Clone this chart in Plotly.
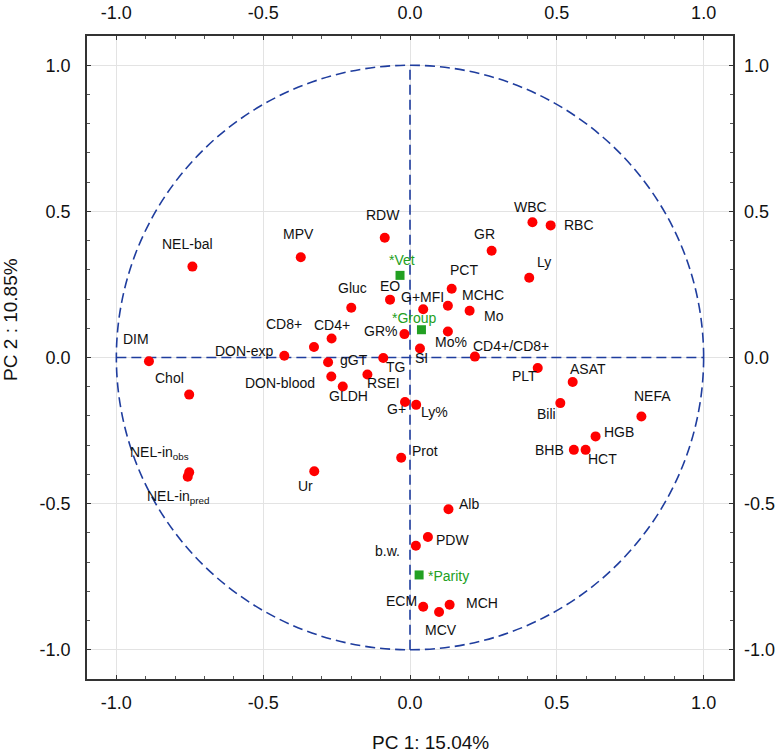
import plotly.graph_objects as go

# ---- data ----
variables = ["NEL-bal", "MPV", "RDW", "EO", "Gluc", "CD4+", "CD8+", "DON-exp", "GR%", "DIM",
             "gGT", "TG", "DON-blood", "RSEI", "GLDH", "Chol", "G+", "Ly%", "WBC", "RBC",
             "GR", "Ly", "PCT", "G+MFI", "MCHC", "Mo", "Mo%", "SI", "CD4+/CD8+", "PLT",
             "ASAT", "Bili", "NEFA", "HGB", "BHB", "HCT", "Prot", "Alb", "PDW", "b.w.",
             "ECM", "MCV", "MCH", "NEL-in<sub>obs</sub>", "NEL-in<sub>pred</sub>", "Ur"]
pc1 = [-0.741, -0.372, -0.086, -0.068, -0.200, -0.267, -0.327, -0.428, -0.019, -0.889,
       -0.279, -0.091, -0.268, -0.145, -0.229, -0.752, -0.017, 0.021, 0.417, 0.479,
       0.278, 0.406, 0.142, 0.045, 0.129, 0.203, 0.129, 0.034, 0.221, 0.435,
       0.554, 0.512, 0.788, 0.632, 0.558, 0.598, -0.030, 0.131, 0.061, 0.020,
       0.045, 0.099, 0.135, -0.752, -0.757, -0.326]
pc2 = [0.311, 0.343, 0.410, 0.198, 0.170, 0.065, 0.036, 0.006, 0.080, -0.013,
       -0.016, -0.002, -0.065, -0.058, -0.099, -0.127, -0.152, -0.162, 0.463, 0.452,
       0.365, 0.273, 0.235, 0.165, 0.177, 0.160, 0.089, 0.031, 0.003, -0.036,
       -0.084, -0.156, -0.202, -0.270, -0.316, -0.316, -0.343, -0.519, -0.614, -0.644,
       -0.853, -0.871, -0.846, -0.393, -0.408, -0.389]

supp_vars = ["*Vet", "*Group", "*Parity"]
supp_pc1 = [-0.034, 0.039, 0.031]
supp_pc2 = [0.281, 0.095, -0.744]

tick_vals = [-1.0, -0.5, 0.0, 0.5, 1.0]
tick_text = ["-1.0", "-0.5", "0.0", "0.5", "1.0"]

# label placement (pixel offsets: dx, dy down, anchor)
label_pos = {
    "NEL-bal": (-5, -23, "center"), "MPV": (-2, -23, "center"), "RDW": (-2, -23, "center"),
    "EO": (0, -14, "center"), "Gluc": (1, -20, "center"), "CD4+": (0, -14, "center"),
    "CD8+": (-30, -23, "center"), "DON-exp": (-8, -5, "right"), "GR%": (-5, -3, "right"),
    "DIM": (-13, -22, "center"), "gGT": (10, -2, "left"), "TG": (12, 9, "center"),
    "DON-blood": (-14, 6, "right"), "RSEI": (16, 9, "center"), "GLDH": (6, 10, "center"),
    "Chol": (-20, -17, "center"), "G+": (-9, 7, "center"), "Ly%": (18, 7, "center"),
    "WBC": (-2, -15, "center"), "RBC": (11, 0, "left"), "GR": (-7, -17, "center"),
    "Ly": (15, -16, "center"), "PCT": (12, -19, "center"), "G+MFI": (-1, -12, "center"),
    "MCHC": (12, -11, "left"), "Mo": (12, 5, "left"), "Mo%": (3, 11, "center"),
    "SI": (2, 10, "center"), "CD4+/CD8+": (-4, -11, "left"), "PLT": (-13, 8, "center"),
    "ASAT": (15, -13, "center"), "Bili": (-14, 11, "center"), "NEFA": (11, -21, "center"),
    "HGB": (6, -4, "left"), "BHB": (-8, 0, "right"), "HCT": (17, 9, "center"),
    "Prot": (9, -7, "left"), "Alb": (9, -5, "left"), "PDW": (6, 3, "left"),
    "b.w.": (-14, 5, "right"), "ECM": (-22, -6, "center"), "MCV": (2, 18, "center"),
    "MCH": (32, -2, "center"), "NEL-in<sub>obs</sub>": (-30, -19, "center"),
    "NEL-in<sub>pred</sub>": (-10, 20, "center"), "Ur": (-9, 15, "center"),
    "*Vet": (2, -15, "center"), "*Group": (-7, -12, "center"), "*Parity": (7, 1, "left"),
}

RED = "#ff0000"
GREEN = "#22a022"
BLUE = "#1f3d9e"
FONT = "Liberation Sans, Arial, sans-serif"

fig = go.Figure()

fig.add_trace(go.Scatter(x=pc1, y=pc2, mode="markers",
                         marker=dict(color=RED, size=10, symbol="circle"),
                         hoverinfo="skip", showlegend=False))
fig.add_trace(go.Scatter(x=supp_pc1, y=supp_pc2, mode="markers",
                         marker=dict(color=GREEN, size=9, symbol="square"),
                         hoverinfo="skip", showlegend=False))
# dummy trace for top/right axes
fig.add_trace(go.Scatter(x=[0], y=[0], xaxis="x2", yaxis="y2", mode="markers",
                         marker=dict(opacity=0), hoverinfo="skip", showlegend=False))

annotations = []
for name, x, y in zip(variables, pc1, pc2):
    dx, dy, anc = label_pos[name]
    annotations.append(dict(x=x, y=y, xref="x", yref="y", text=name, showarrow=False,
                            xanchor=anc, yanchor="middle", xshift=dx, yshift=-dy,
                            font=dict(size=14, color="#111111", family=FONT)))
for name, x, y in zip(supp_vars, supp_pc1, supp_pc2):
    dx, dy, anc = label_pos[name]
    annotations.append(dict(x=x, y=y, xref="x", yref="y", text=name, showarrow=False,
                            xanchor=anc, yanchor="middle", xshift=dx, yshift=-dy,
                            font=dict(size=14, color=GREEN, family=FONT)))

annotations.append(dict(text="PC 1: 15.04%", xref="paper", yref="paper", x=0.532, y=-0.099,
                        xanchor="center", yanchor="middle", showarrow=False,
                        font=dict(size=19, color="#111111", family=FONT)))
annotations.append(dict(text="PC 2 : 10.85%", xref="paper", yref="paper", x=0, y=0.5585,
                        xshift=-76, xanchor="center", yanchor="middle", showarrow=False,
                        textangle=-90, font=dict(size=19, color="#111111", family=FONT)))

dash = "10px,5px"
shapes = [
    dict(type="circle", xref="x", yref="y", x0=-1, y0=-1, x1=1, y1=1,
         line=dict(color=BLUE, width=1.6, dash=dash), layer="between"),
    dict(type="line", xref="x", yref="y", x0=-1, y0=0, x1=1, y1=0,
         line=dict(color=BLUE, width=1.6, dash=dash), layer="between"),
    dict(type="line", xref="x", yref="y", x0=0, y0=-1, x1=0, y1=1,
         line=dict(color=BLUE, width=1.6, dash=dash), layer="between"),
]

axis_common = dict(range=[-1.1, 1.1], tickvals=tick_vals, ticktext=tick_text,
                   tickfont=dict(size=18, color="#111111", family=FONT),
                   zeroline=False, automargin=False)

fig.update_layout(
    width=780, height=752,
    margin=dict(l=87, r=47, t=36, b=73, autoexpand=False),
    paper_bgcolor="white", plot_bgcolor="white",
    font=dict(family=FONT),
    xaxis=dict(**axis_common, showgrid=True, gridcolor="#e3e3e3", gridwidth=1,
               showline=True, linecolor="#333333", linewidth=1.5, mirror="allticks",
               ticks="inside", ticklen=4, tickcolor="#333333",
               minor=dict(dtick=0.1, tick0=0, ticks="inside", ticklen=3, tickcolor="#555555",
                          showgrid=False),
               ticklabelstandoff=7),
    yaxis=dict(**axis_common, showgrid=True, gridcolor="#e3e3e3", gridwidth=1,
               showline=True, linecolor="#333333", linewidth=1.5, mirror="allticks",
               ticks="inside", ticklen=4, tickcolor="#333333",
               minor=dict(dtick=0.1, tick0=0, ticks="inside", ticklen=3, tickcolor="#555555",
                          showgrid=False),
               ticklabelstandoff=11),
    xaxis2=dict(**axis_common, overlaying="x", side="top", showgrid=False, showline=False,
                ticks="", ticklabelstandoff=12),
    yaxis2=dict(**axis_common, overlaying="y", side="right", showgrid=False, showline=False,
                ticks="", ticklabelstandoff=10),
    shapes=shapes,
    annotations=annotations,
)

fig.write_html("out.html", config={"displayModeBar": False},
               post_script="document.body.style.margin='0';document.body.style.overflow='hidden';")
